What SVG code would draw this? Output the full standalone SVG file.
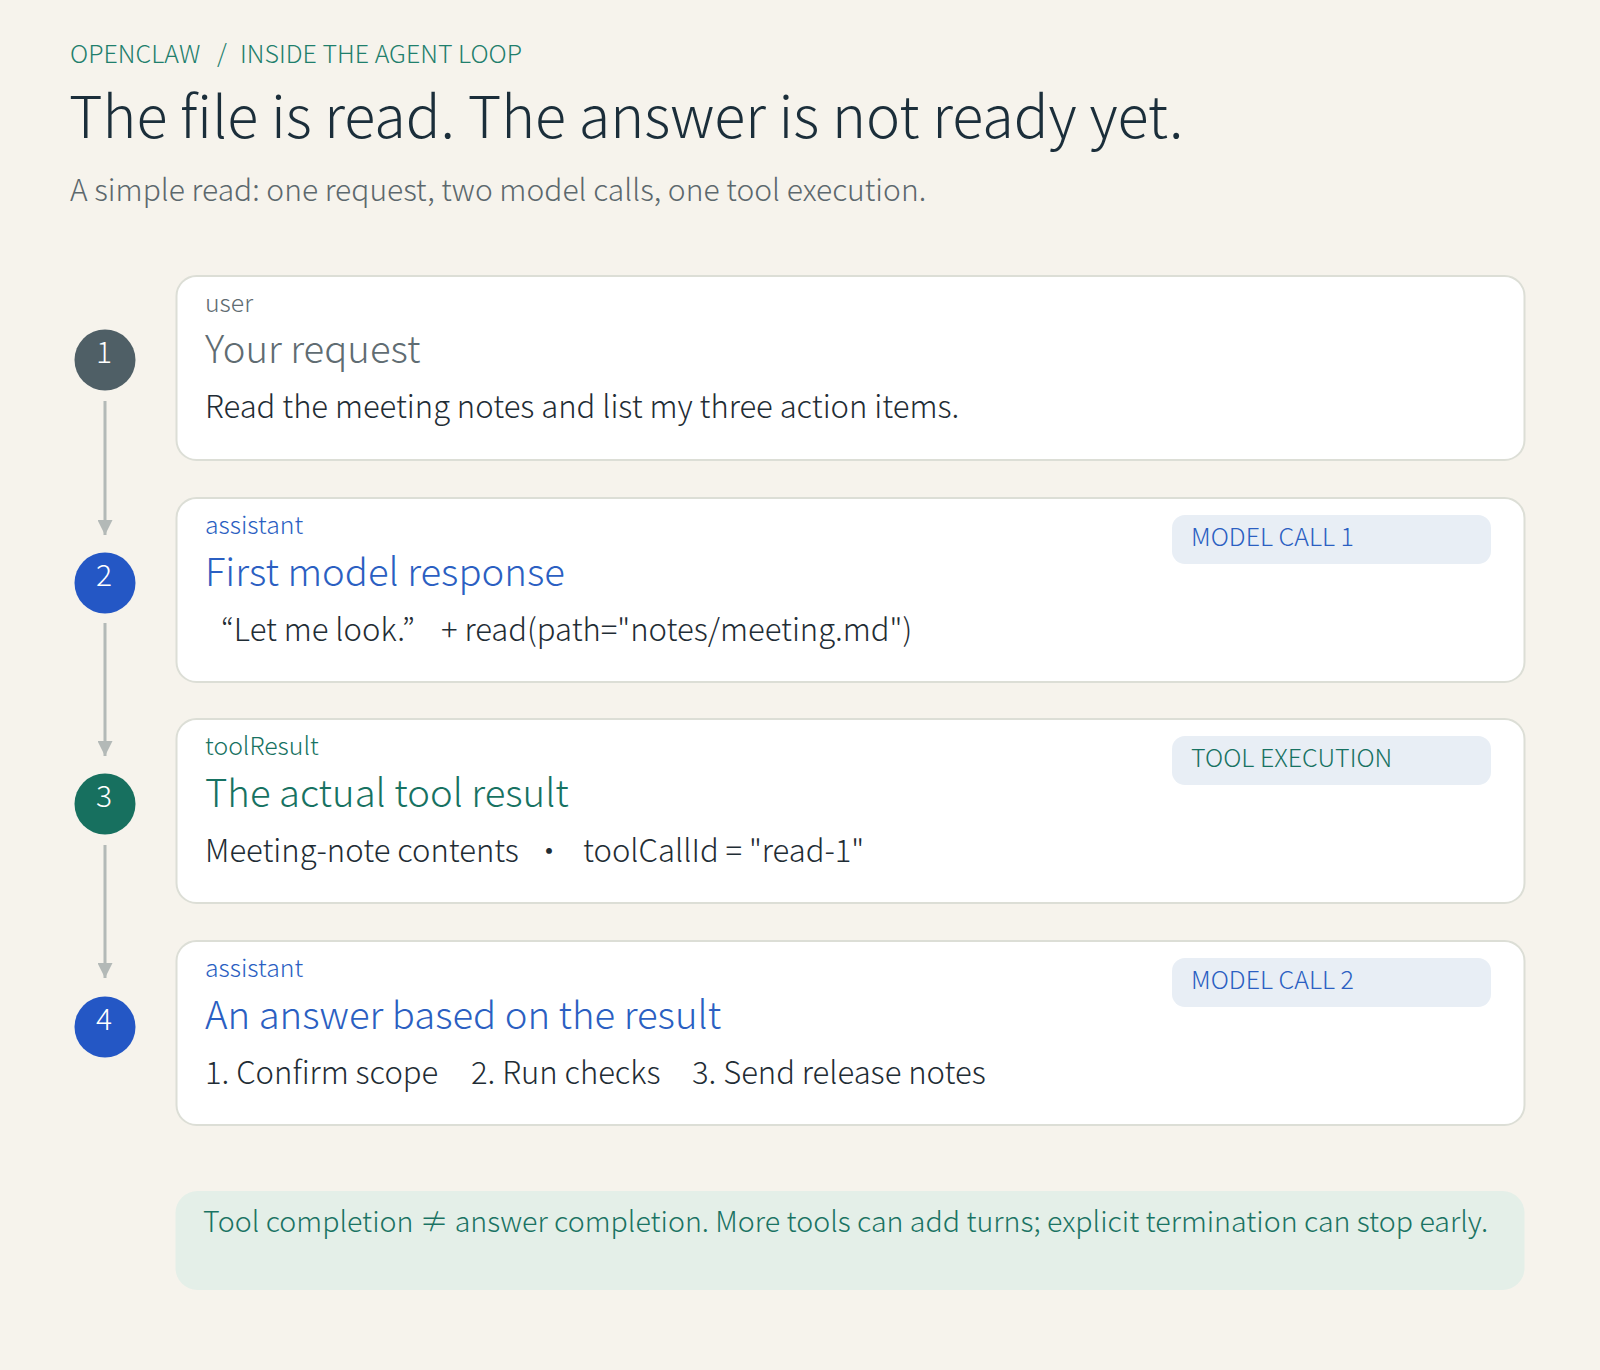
<svg xmlns="http://www.w3.org/2000/svg" width="1600" height="1370" viewBox="0 0 1600 1370">
<defs>
<style>
text{font-family:"Noto Sans CJK JP","Noto Sans",sans-serif;font-weight:300;}
.crumb{font-size:25px;fill:#1f7f6c;}
.title{font-size:57.5px;fill:#1b2e3a;}
.sub{font-size:30px;fill:#5c686d;}
.card{fill:#ffffff;stroke:#dcded6;stroke-width:2;}
.lbl{font-size:24.8px;}
.hd{font-size:38.3px;}
.body{font-size:31px;fill:#1f2d35;}
.badge{fill:#e8eef5;}
.btxt{font-size:25px;}
.num{font-size:30px;fill:#ffffff;text-anchor:middle;}
.gray{fill:#606c72;}
.blue{fill:#2b5fc2;}
.teal{fill:#177262;}
.conn{stroke:#b3b9b7;stroke-width:3;fill:none;}
.foot{fill:#e4efe8;}
.ftxt{font-size:28.6px;fill:#1a7363;}
</style>
<marker id="arr" viewBox="0 0 10 10" refX="10" refY="5" markerWidth="5" markerHeight="5" markerUnits="strokeWidth" orient="auto">
<path d="M0,0 L10,5 L0,10 z" fill="#b3b9b7"/>
</marker>
</defs>
<rect width="1600" height="1370" fill="#f6f3ec"/>
<g id="header">
<text class="crumb" y="63"><tspan x="70">OPENCLAW</tspan><tspan x="217">/</tspan><tspan x="240">INSIDE THE AGENT LOOP</tspan></text>
<text class="title" x="69" y="138">The file is read. The answer is not ready yet.</text>
<text class="sub" x="70" y="201">A simple read: one request, two model calls, one tool execution.</text>
</g>
<g id="connectors">
<line class="conn" x1="105" y1="401" x2="105" y2="535" marker-end="url(#arr)"/>
<line class="conn" x1="105" y1="623" x2="105" y2="756" marker-end="url(#arr)"/>
<line class="conn" x1="105" y1="845" x2="105" y2="978" marker-end="url(#arr)"/>
</g>
<g id="step1">
<circle cx="105" cy="360" r="30.5" fill="#4f5f66"/>
<text class="num" x="104" y="363">1</text>
<rect class="card" x="176.5" y="276" width="1348" height="184" rx="20"/>
<text class="lbl gray" x="205" y="312">user</text>
<text class="hd gray" x="205" y="363">Your request</text>
<text class="body" x="205" y="418">Read the meeting notes and list my three action items.</text>
</g>
<g id="step2">
<circle cx="105" cy="583" r="30.5" fill="#2457c5"/>
<text class="num" x="104" y="586">2</text>
<rect class="card" x="176.5" y="498" width="1348" height="184" rx="20"/>
<text class="lbl blue" x="205" y="534">assistant</text>
<text class="hd blue" x="205" y="586">First model response</text>
<text class="body" x="221" y="641">“Let me look.”</text>
<text class="body" x="441" y="641">+ read(path="notes/meeting.md")</text>
<rect class="badge" x="1172" y="515" width="319" height="49" rx="13"/>
<text class="btxt blue" x="1191" y="546">MODEL CALL 1</text>
</g>
<g id="step3">
<circle cx="105" cy="804" r="30.5" fill="#17705f"/>
<text class="num" x="104" y="807">3</text>
<rect class="card" x="176.5" y="719" width="1348" height="184" rx="20"/>
<text class="lbl teal" x="205" y="755">toolResult</text>
<text class="hd teal" x="205" y="807">The actual tool result</text>
<text class="body" x="205" y="862">Meeting-note contents</text>
<text class="body" x="549" y="862" text-anchor="middle">・</text>
<text class="body" x="583" y="862">toolCallId = "read-1"</text>
<rect class="badge" x="1172" y="736" width="319" height="49" rx="13"/>
<text class="btxt teal" x="1191" y="767">TOOL EXECUTION</text>
</g>
<g id="step4">
<circle cx="105" cy="1027" r="30.5" fill="#2457c5"/>
<text class="num" x="104" y="1030">4</text>
<rect class="card" x="176.5" y="941" width="1348" height="184" rx="20"/>
<text class="lbl blue" x="205" y="977">assistant</text>
<text class="hd blue" x="205" y="1029">An answer based on the result</text>
<text class="body" x="205" y="1084">1. Confirm scope</text>
<text class="body" x="471" y="1084">2. Run checks</text>
<text class="body" x="692" y="1084">3. Send release notes</text>
<rect class="badge" x="1172" y="958" width="319" height="49" rx="13"/>
<text class="btxt blue" x="1191" y="989">MODEL CALL 2</text>
</g>
<g id="note">
<rect class="foot" x="175.5" y="1191" width="1349" height="99" rx="22"/>
<text class="ftxt" x="203" y="1232">Tool completion ≠ answer completion. More tools can add turns; explicit termination can stop early.</text>
</g>
</svg>
